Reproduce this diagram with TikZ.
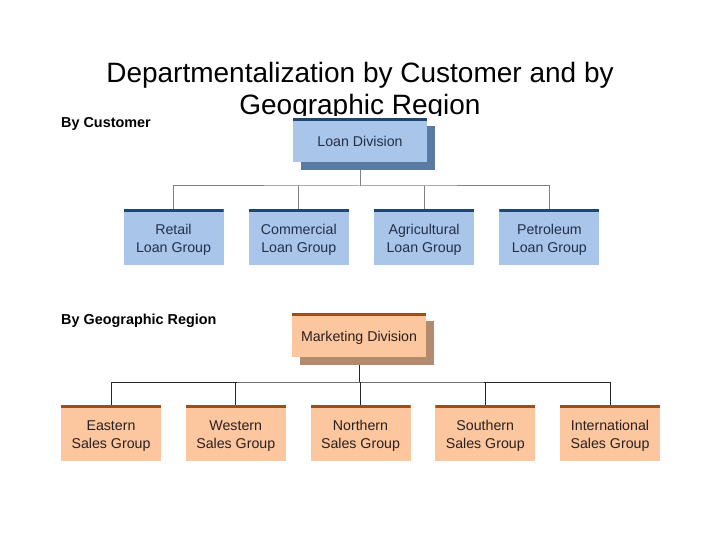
\documentclass[tikz,border=0pt]{standalone}
\usepackage{fontspec}
\setmainfont{Liberation Sans}
\usetikzlibrary{shadows,backgrounds}

\definecolor{loanfill}{HTML}{A9C5EA}
\definecolor{loantop}{HTML}{1F4670}
\definecolor{loanshade}{HTML}{5A7AA2}
\definecolor{loantext}{HTML}{22304A}
\definecolor{salesfill}{HTML}{FCC69E}
\definecolor{salestop}{HTML}{9C4E1C}
\definecolor{salesshade}{HTML}{B38A6E}
\definecolor{salestext}{HTML}{2A2020}

\tikzset{
  orgbox/.style={rectangle, inner sep=0pt, align=center,
    font=\fontsize{14.2}{18}\selectfont,
    path picture={\fill[#1] (path picture bounding box.north west)
      rectangle ([yshift=-3pt]path picture bounding box.north east);}},
  bluebox/.style={orgbox=loantop, fill=loanfill, text=loantext,
    minimum width=100pt, minimum height=56pt},
  orangebox/.style={orgbox=salestop, fill=salesfill, text=salestext,
    minimum width=100pt, minimum height=56pt},
  division/.style={minimum width=134pt, minimum height=44pt,
    drop shadow={shadow xshift=8pt, shadow yshift=-8pt, opacity=1, fill=#1}},
  heading/.style={anchor=west, inner sep=0pt, font=\bfseries\fontsize{14.4}{16}\selectfont},
  link/.style={line width=1pt}
}

\begin{document}
\begin{tikzpicture}[x=1pt, y=-1pt]
  \useasboundingbox (0,0) rectangle (720,540);

  % title, lower line hidden under the top box
  \begin{scope}
    \clip (0,0) rectangle (720,116);
    \node (title) at (360,91) [align=center, font=\fontsize{28}{32}\selectfont]
      {Departmentalization by Customer and by\\Geographic Region};
  \end{scope}

  \node[heading] (bycust) at (61,124) {By Customer};
  \node[heading] (byregion) at (61,321) {By Geographic Region};

  % by customer
  \node[bluebox, division=loanshade, minimum height=44pt] (loan) at (360,140) {\rule[-2pt]{0pt}{17pt}Loan Division};
  \def \custgroups {
    {Retail},
    {Commercial},
    {Agricultural},
    {Petroleum}
  }
  \foreach \t [count=\s from 0] in \custgroups
  {
    \node[bluebox] (cust\s) at ({173.5+125.3*\s},237) {\rule{0pt}{15pt}\t\\Loan Group};
  }

  % by region
  \node[orangebox, division=salesshade, minimum height=44pt] (mkt) at (359,335) {\rule[-2pt]{0pt}{17pt}Marketing Division};
  \def \regions {
    {Eastern},
    {Western},
    {Northern},
    {Southern},
    {International}
  }
  \foreach \t [count=\s from 0] in \regions
  {
    \node[orangebox] (reg\s) at ({111+124.75*\s},433) {\rule{0pt}{15pt}\t\\Sales Group};
  }

  \begin{scope}[on background layer]
    \coordinate (custbus) at (360,186);
    \coordinate (regbus) at (360,382);
    \draw[link, gray] (loan.south) -- (loan.south |- custbus);
    \draw[link, gray] (cust0.north) |- (custbus) -| (cust3.north);
    \foreach \s in {1,2}
      \draw[link, gray] (cust\s.north) -- (cust\s.north |- custbus);
    \draw[link, black!85] (mkt.south) -- (mkt.south |- regbus);
    \draw[link, black!85] (reg0.north) |- (regbus) -| (reg4.north);
    \foreach \s in {1,2,3}
      \draw[link, black!85] (reg\s.north) -- (reg\s.north |- regbus);
  \end{scope}
\end{tikzpicture}
\end{document}
